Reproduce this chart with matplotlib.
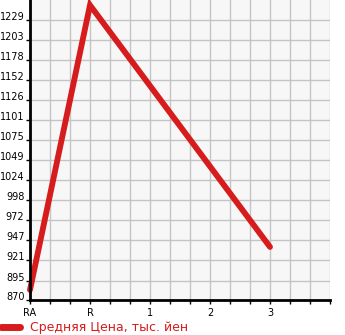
import matplotlib
matplotlib.use("Agg")
import matplotlib.pyplot as plt
from matplotlib.ticker import FixedLocator, MultipleLocator
import matplotlib.transforms as mtransforms

# Data
categories = ["RA", "R", "1", "2", "3"]
point_labels = ["RA", "R", "3"]
point_values = [883, 1248, 938]
y_ticks = [870, 895, 921, 947, 972, 998, 1024, 1049, 1075, 1101, 1126, 1152, 1178, 1203, 1229]
legend_label = "Средняя Цена, тыс. йен"

RED = "#d61c1c"
W, H = 345, 335
fig = plt.figure(figsize=(W / 100, H / 100), dpi=100)
ax = fig.add_axes([30 / W, 35 / H, 300 / W, 300 / H])
ax.set_facecolor("#f7f7f7")

cat_pos = {c: i * 3 for i, c in enumerate(categories)}
xs = [cat_pos[c] for c in point_labels]
line, = ax.plot(xs, point_values, color=RED, lw=4.2, solid_capstyle="round",
                solid_joinstyle="miter", zorder=3, clip_on=False)

step = (y_ticks[-1] - y_ticks[0]) / (len(y_ticks) - 1)
ax.set_xlim(0, 15)
ax.set_ylim(y_ticks[0], y_ticks[0] + 15 * step)

ax.xaxis.set_major_locator(FixedLocator([cat_pos[c] for c in categories]))
ax.set_xticklabels(categories)
ax.xaxis.set_minor_locator(MultipleLocator(1))
ax.yaxis.set_major_locator(FixedLocator(y_ticks))
ax.set_yticklabels([str(v) for v in y_ticks])

ax.grid(True, which="both", color="#c4c4c4", lw=1.0)
ax.set_axisbelow(True)

for s in ["top", "right"]:
    ax.spines[s].set_visible(False)
for s in ["left", "bottom"]:
    ax.spines[s].set_color("black")
    ax.spines[s].set_linewidth(2)
    ax.spines[s].set_zorder(4)

ax.tick_params(axis="both", which="both", direction="out", length=3, width=1,
               color="black", labelsize=7, labelcolor="black")
ax.tick_params(axis="y", pad=1)
ax.tick_params(axis="x", pad=3)

# y tick labels shifted slightly up
offset = mtransforms.ScaledTranslation(0, 4 / 100, fig.dpi_scale_trans)
for lbl in ax.get_yticklabels():
    lbl.set_transform(lbl.get_transform() + offset)

# Legend
fig.add_artist(plt.Line2D([1 / W, 20 / W], [1 - 327 / H, 1 - 327 / H], color=RED,
                          lw=5, solid_capstyle="round", transform=fig.transFigure))
fig.text(30 / W, 1 - 328 / H, legend_label, color=RED, fontsize=9,
         ha="left", va="center")

fig.savefig("out.png", dpi=100)
